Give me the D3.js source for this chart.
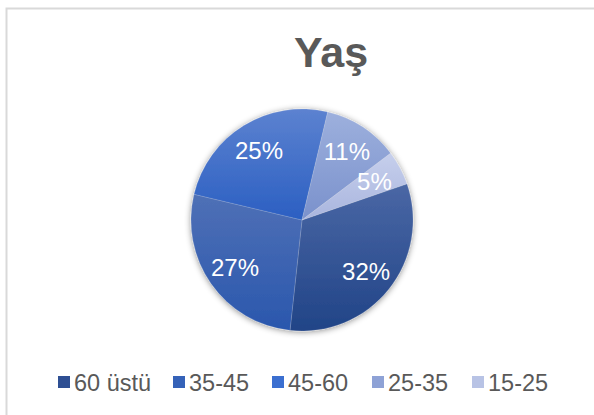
<!DOCTYPE html>
<html><head><meta charset="utf-8">
<script src="https://cdn.jsdelivr.net/npm/d3@7"></script>
<style>body{margin:0;background:#fff}svg{display:block;font-family:"Liberation Sans",Arial,sans-serif}</style>
</head><body>
<svg id="c" width="594" height="415"></svg>
<script>
const categories = ["60 üstü","35-45","45-60","25-35","15-25"];
const values = [32,27,25,11,5];
const labels = ["32%","27%","25%","11%","5%"];
const colorsTop = ["#4a67a5","#4f70b6","#5c82d0","#9db0dd","#c6cfec"];
const colorsBottom = ["#214487","#2a57ad","#2b5fc2","#7a91cc","#a9b5de"];
const legendColors = ["#2e4f93","#3562b8","#3b6fd0","#8ea2d6","#b8c3e5"];

const svg = d3.select("#c");
const W = 594, H = 415;
const cx = 302, cy = 220, r = 111;

svg.append("rect").attr("x",6.5).attr("y",8.5).attr("width",W).attr("height",H)
  .attr("fill","#fff").attr("stroke","#d9d9d9").attr("stroke-width",2);

svg.append("text").attr("x",331).attr("y",67).attr("text-anchor","middle")
  .attr("font-size",43).attr("font-weight","bold").attr("fill","#595959").text("Yaş");

const defs = svg.append("defs");
const f = defs.append("filter").attr("id","sh").attr("x","-20%").attr("y","-20%").attr("width","140%").attr("height","140%");
f.append("feDropShadow").attr("dx",0).attr("dy",1).attr("stdDeviation",3).attr("flood-color","#000").attr("flood-opacity",0.45);

categories.forEach((c,i)=>{
  const g = defs.append("linearGradient").attr("id","g"+i)
    .attr("x1",0).attr("y1",0).attr("x2",0).attr("y2",1);
  g.append("stop").attr("offset","0").attr("stop-color",colorsTop[i]);
  g.append("stop").attr("offset","1").attr("stop-color",colorsBottom[i]);
});

const start = 71*Math.PI/180;
const pie = d3.pie().sort(null).value(d=>d).startAngle(start).endAngle(start+2*Math.PI);
const arcs = pie(values);
const arc = d3.arc().innerRadius(0).outerRadius(r);
const lab = d3.arc().innerRadius(82).outerRadius(82);

const pg = svg.append("g").attr("transform",`translate(${cx},${cy})`);
pg.append("g").attr("filter","url(#sh)").selectAll("path").data(arcs).join("path")
  .attr("d",arc).attr("fill",(d,i)=>`url(#g${i})`)
  .attr("stroke","#ffffff").attr("stroke-opacity",0.25).attr("stroke-width",0.6);

pg.selectAll("text").data(arcs).join("text")
  .attr("transform",d=>`translate(${lab.centroid(d)})`)
  .attr("text-anchor","middle").attr("dy","0.36em")
  .attr("font-size",24).attr("fill","#fff").text((d,i)=>labels[i]);

const legendX = [58,173,272,372,472];
const lg = svg.append("g");
categories.forEach((c,i)=>{
  lg.append("rect").attr("x",legendX[i]).attr("y",376).attr("width",12).attr("height",12).attr("fill",legendColors[i]);
  lg.append("text").attr("x",legendX[i]+16).attr("y",390.5).attr("font-size",23.5).attr("fill","#595959").text(c);
});
</script>
</body></html>
